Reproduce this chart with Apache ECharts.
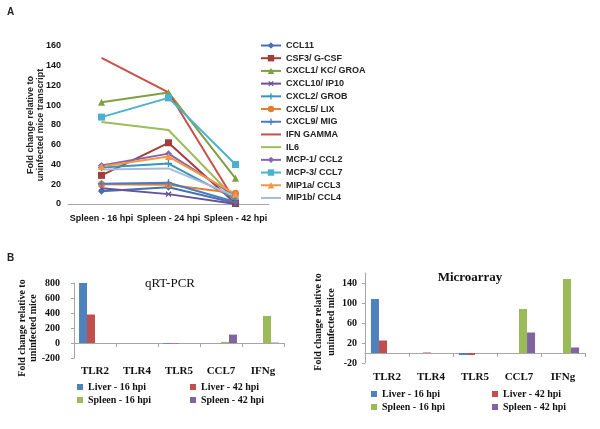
<!DOCTYPE html>
<html><head><meta charset="utf-8">
<script src="https://cdn.jsdelivr.net/npm/echarts@6/dist/echarts.min.js"></script>
<style>html,body{margin:0;padding:0;background:#fff}#c{width:600px;height:429px}</style>
</head><body><div id="c"></div>
<script>
// ---- Panel A data ----
const timepoints = ['Spleen - 16 hpi', 'Spleen - 24 hpi', 'Spleen - 42 hpi'];
const CCL11 = [13, 17, 1];
const CSF3 = [29, 62, 0.5];
const CXCL1 = [103, 113, 26];
const CXCL10 = [16, 10, 0];
const CXCL2 = [37, 41, 5];
const CXCL5 = [20, 19.5, 11];
const CXCL9 = [20.5, 21.5, 2];
const IFNG = [148, 113, 2];
const IL6 = [83, 75, 5];
const MCP1 = [39, 51, 8];
const MCP3 = [88, 107.5, 40];
const MIP1a = [38, 48, 10];
const MIP1b = [35, 36, 8];
const yTicksA = [0, 20, 40, 60, 80, 100, 120, 140, 160];

// ---- Panel B data ----
const genes = ['TLR2', 'TLR4', 'TLR5', 'CCL7', 'IFNg'];
const groups = ['Liver - 16 hpi', 'Liver - 42 hpi', 'Spleen - 16 hpi', 'Spleen - 42 hpi'];
const qpcrLiver16 = [800, 0, -9, 0, 0];
const qpcrLiver42 = [380, 0, -6, 0, 0];
const qpcrSpleen16 = [0, 0, 0, 15, 360];
const qpcrSpleen42 = [0, 0, 0, 112, 5];
const arrLiver16 = [108, 0, -4, 0, 0];
const arrLiver42 = [25, 1, -4, 0, 0];
const arrSpleen16 = [0, 0, 0, 88, 148];
const arrSpleen42 = [0, 0, 0, 41, 11];

const plus = 'path://M4,0h2v4h4v2h-4v4h-2v-4h-4v-2h4z';
const lineDefs = [
  ['CCL11', CCL11, '#4472B4', 'diamond', 0],
  ['CSF3/ G-CSF', CSF3, '#A23D3B', 'rect', 0],
  ['CXCL1/ KC/ GROA', CXCL1, '#809F42', 'triangle', 0],
  ['CXCL10/ IP10', CXCL10, '#68519A', plus, 45],
  ['CXCL2/ GROB', CXCL2, '#3498B8', plus, 0],
  ['CXCL5/ LIX', CXCL5, '#E07F33', 'circle', 0],
  ['CXCL9/ MIG', CXCL9, '#4C7CC0', plus, 0],
  ['IFN GAMMA', IFNG, '#C8504C', 'none', 0],
  ['IL6', IL6, '#9CBD5A', 'none', 0],
  ['MCP-1/ CCL2', MCP1, '#8466AA', 'diamond', 0],
  ['MCP-3/ CCL7', MCP3, '#4BB2CE', 'rect', 0],
  ['MIP1a/ CCL3', MIP1a, '#F79646', 'triangle', 0],
  ['MIP1b/ CCL4', MIP1b, '#AAB9DE', 'none', 0]
];

const sans = 'Liberation Sans';
const serif = 'Liberation Serif';
const barColors = ['#4F81BD', '#C0504D', '#9BBB59', '#8064A2'];

const series = [];
lineDefs.forEach(d => {
  series.push({
    name: d[0], type: 'line', xAxisIndex: 0, yAxisIndex: 0, data: d[1],
    symbol: d[3], symbolSize: d[3] === 'none' ? 0 : 7, symbolRotate: d[4], showSymbol: d[3] !== 'none',
    lineStyle: { width: 2, color: d[2] }, itemStyle: { color: d[2] }, z: 3
  });
});
const qData = [qpcrLiver16, qpcrLiver42, qpcrSpleen16, qpcrSpleen42];
const aData = [arrLiver16, arrLiver42, arrSpleen16, arrSpleen42];
groups.forEach((g, i) => {
  series.push({ name: g, type: 'bar', xAxisIndex: 1, yAxisIndex: 1, data: qData[i],
    itemStyle: { color: barColors[i] }, barGap: '0%', barCategoryGap: '24%' });
});
groups.forEach((g, i) => {
  series.push({ name: g, type: 'bar', xAxisIndex: 2, yAxisIndex: 2, data: aData[i],
    itemStyle: { color: barColors[i] }, barGap: '0%', barCategoryGap: '27%' });
});

const axisGray = '#A6A6A6';
const bottomXAxis = (gi, margin) => ({
  type: 'category', gridIndex: gi, data: genes,
  axisLine: { onZero: true, lineStyle: { color: axisGray } },
  axisTick: { show: true, length: 4, lineStyle: { color: axisGray } },
  axisLabel: { margin: margin, fontFamily: serif, fontWeight: 'bold', fontSize: 11, color: '#111' }
});

const legendText = { fontFamily: serif, fontWeight: 'bold', fontSize: 10, color: '#111' };
const mkLegend = (names, left, top) => ({
  data: names, orient: 'vertical', left: left, top: top, itemWidth: 6, itemHeight: 6,
  itemGap: 3, icon: 'rect', textStyle: legendText, padding: 0, selectedMode: false
});

const lineLegendData = lineDefs.map(d => d[3] === 'none'
  ? { name: d[0], itemStyle: { opacity: 0 } }
  : { name: d[0] });

const option = {
  animation: false,
  backgroundColor: '#fff',
  textStyle: { fontFamily: sans },
  grid: [
    { left: 68, top: 46, width: 201, height: 158 },
    { left: 74, top: 283, width: 210, height: 75 },
    { left: 365, top: 273, width: 220, height: 90 }
  ],
  legend: [
    { data: lineLegendData, orient: 'vertical', left: 260, top: 41, itemWidth: 20, itemHeight: 8,
      itemGap: 3.7, padding: 0, selectedMode: false,
      textStyle: { fontFamily: sans, fontWeight: 'bold', fontSize: 9, color: '#222', lineHeight: 9 } },
    mkLegend([groups[0], groups[2]], 77, 382),
    mkLegend([groups[1], groups[3]], 190, 382),
    mkLegend([groups[0], groups[2]], 371, 389),
    mkLegend([groups[1], groups[3]], 492, 389)
  ],
  xAxis: [
    { type: 'category', gridIndex: 0, data: timepoints, boundaryGap: true,
      axisLine: { lineStyle: { color: axisGray } },
      axisTick: { length: 4, lineStyle: { color: axisGray } },
      axisLabel: { interval: 0, margin: 10, fontFamily: sans, fontWeight: 'bold', fontSize: 9, color: '#111', hideOverlap: false } },
    bottomXAxis(1, 8),
    bottomXAxis(2, 9)
  ],
  yAxis: [
    { type: 'value', gridIndex: 0, min: yTicksA[0], max: yTicksA[yTicksA.length - 1], interval: 20,
      axisLine: { show: false }, axisTick: { show: false }, splitLine: { show: false },
      axisLabel: { margin: 7, fontFamily: sans, fontWeight: 'bold', fontSize: 9, color: '#111' } },
    { type: 'value', gridIndex: 1, min: -200, max: 800, interval: 200,
      axisLine: { show: true, lineStyle: { color: axisGray } }, axisTick: { show: true, length: 3, lineStyle: { color: axisGray } },
      splitLine: { show: false },
      axisLabel: { margin: 14, fontFamily: serif, fontWeight: 'bold', fontSize: 10, color: '#111' } },
    { type: 'value', gridIndex: 2, min: -20, max: 160, interval: 40,
      axisLine: { show: true, lineStyle: { color: axisGray } }, axisTick: { show: true, length: 3, lineStyle: { color: axisGray } },
      splitLine: { show: false },
      axisLabel: { margin: 8, showMaxLabel: false, fontFamily: serif, fontWeight: 'bold', fontSize: 10, color: '#111' } }
  ],
  graphic: [
    { type: 'text', left: 7, top: 7, style: { text: 'A', font: 'bold 10px "Liberation Sans"', fill: '#222' } },
    { type: 'text', left: 7, top: 253, style: { text: 'B', font: 'bold 10px "Liberation Sans"', fill: '#222' } },
    { type: 'text', x: 36, y: 125, rotation: Math.PI / 2,
      style: { text: 'Fold change relative to\nuninfected mice transcript', font: 'bold 9px "Liberation Sans"', fill: '#222',
        align: 'center', verticalAlign: 'middle', lineHeight: 10 } },
    { type: 'text', x: 28, y: 328, rotation: Math.PI / 2,
      style: { text: 'Fold change relative to\nuninfected mice', font: 'bold 10px "Liberation Serif"', fill: '#111',
        align: 'center', verticalAlign: 'middle', lineHeight: 11 } },
    { type: 'text', x: 325, y: 322, rotation: Math.PI / 2,
      style: { text: 'Fold change relative to\nuninfected mice', font: 'bold 10px "Liberation Serif"', fill: '#111',
        align: 'center', verticalAlign: 'middle', lineHeight: 13 } },
    { type: 'text', x: 170, y: 284, style: { text: 'qRT-PCR', font: '13px "Liberation Serif"', fill: '#111', align: 'center', verticalAlign: 'middle' } },
    { type: 'text', x: 470, y: 278, style: { text: 'Microarray', font: 'bold 13px "Liberation Serif"', fill: '#111', align: 'center', verticalAlign: 'middle' } }
  ],
  series: series
};
const chart = echarts.init(document.getElementById('c'), null, { renderer: 'canvas' });
chart.setOption(option);
</script></body></html>
